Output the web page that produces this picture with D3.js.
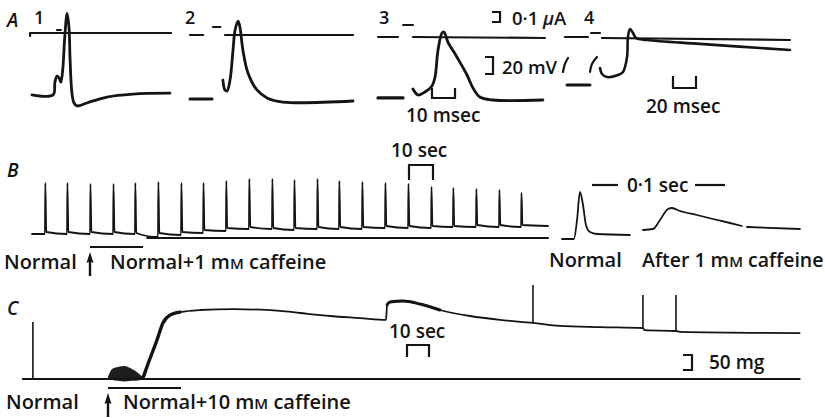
<!DOCTYPE html>
<html>
<head>
<meta charset="utf-8">
<script src="https://cdn.jsdelivr.net/npm/d3@7"></script>
<style>
  body { margin: 0; background: #fff; }
  text { font-family: "Open Sans", sans-serif; font-weight: 600; fill: #141414; }
</style>
</head>
<body>
<svg id="fig" width="825" height="418"></svg>
<script>
// ---------- Panel A: sweeps, [time ms, membrane potential mV] ----------
const a1Volt = [[0.4,-84],[9.6,-84],[10.4,-69],[11.3,-62],[12.2,-64],[13,-69],[13.9,-51],[14.6,-19],[15.7,12],[16.5,-4],[17,-43],[17.8,-82],[18.7,-93.5],[20,-97],[24.3,-93.5],[33,-86.5],[44.3,-83],[60.4,-82]];
const a2Rest = [[0,-88.8],[9.6,-88.8]];
const a2Volt = [[14.3,-66.5],[15.2,-78.2],[16.1,-79.4],[17.4,-66.5],[18.7,-31.2],[19.6,-7.6],[20.9,2.9],[21.7,-4.1],[23,-31.2],[25.2,-58.2],[29.1,-78.2],[33.5,-87.6],[40.4,-92.4],[70.9,-91.2]];
const a3Rest = [[0,-87.6],[10.9,-87.6]];
const a3Volt = [[15.2,-77.1],[17.4,-84.1],[20.4,-80.6],[23.5,-73.5],[24.8,-62.9],[26.1,-31.2],[27.8,-11.2],[28.7,-10],[30.4,-21.8],[34.3,-39.4],[38.7,-60.6],[41.3,-75.9],[44.3,-86.5],[50,-90],[71.7,-90]];
const a4Rest = [[6.1,-72.4],[26.1,-72.4]];
const a4Hook1 = [[2.6,-57],[4.3,-47.6],[7,-40.6]];
const a4Hook2 = [[26.1,-57],[27.8,-47.6],[32.2,-39.4]];
const a4Volt = [[34.8,-52.4],[36.5,-59.4],[40.9,-63],[50.4,-60.6],[54.8,-57],[58.3,-39.4],[59.1,-15.9],[60.9,-6.5],[63.5,-11.2],[66.1,-17],[75.7,-19.4],[121.7,-24],[200,-31.2]];

// current traces, [time ms, µA]; each entry is one visible stroke
const a1Curr = [[[-0.4,-0.03],[-0.4,0],[60.9,0]], [[11.3,0.03],[13,0.03]]];
const a2Curr = [[[0,0],[5.7,0]], [[10,0.08],[13.2,0.08]], [[15.2,0],[70.9,0]]];
const a3Curr = [[[0,0],[8.7,0]], [[10.9,0.12],[15.2,0.12]], [[15.2,0],[72.6,-0.01]]];
const a4Curr = [[[4.3,0],[24.3,0]], [[27,0.04],[34.8,0.04]], [[36.5,-0.01],[200,-0.03]]];

// ---------- Panel B: twitches, time s, tension (arbitrary units) ----------
const bTwitchT = [5.4,14.6,24.2,33.8,42.9,52.5,62.1,71.3,80.8,90.4,100,109.2,118.8,127.9,137.5,147.1,156.7,166.3,175.4,185,194.6,203.8];
const bPeak    = [55,55,54,54,55,56,55,55,57,59,59,58,59,57,56,55,54,51,50,49,48,45];
const bRest    = [4,4,4,4,4,1,3,5,7,9,9,8,9,9,9,10,10,10,11,11,11,11];
const bTail    = [6,6,6,6,5,5,6,8,10,11,10,10,11,11,11,12,12,12,12,13,13,13];
const bEnd = [215, 12];
const bRefLine = [[48,0],[215,0]];

// inset single twitches, time ms, tension above own baseline
const inNormal = [[0,0],[9,0],[11.3,19],[13.5,47],[15.8,34],[18,14],[21,7],[26.3,5],[51,4]];
const inCaff1  = [[0,0],[7.5,1],[12.8,10],[18.8,21],[21.8,22],[27.8,19],[40.6,15],[52.6,11],[65.4,7],[74.4,4]];
const inCaff2  = [[78.2,3],[118,1]];

// ---------- Panel C: contracture, time s, tension mg ----------
const cTrace = [[0,0],[38.6,0],[54.5,3],[56.8,50],[60.9,130],[63.6,187],[66.8,213],[71.4,223],[80.5,230],[95.5,233],[116.8,227],[125.9,220],[139.5,210],[153.2,203],[165,197],[165.5,247],[166.8,257],[172.7,260],[180.5,250],[189.5,230],[203.2,210],[216.8,197],[231.8,187],[244,177],[262.3,173],[281.8,170],[282.5,163],[296.8,160],[298.6,157],[353,153]];
const cSpikeT    = [4.5, 231.8, 281.8, 296.8];
const cSpikeBase = [0, 187, 170, 162];
const cSpikePeak = [190, 313, 280, 280];
// fibrillation burst envelope: [time s, low mg, high mg]
const cBurst = [[38.6,-2,5],[40.5,-3,33],[43.2,-6,40],[46.4,-8,43],[49.5,-6,33],[52.3,-5,20],[54.5,-2,6]];
const cRefLine = [[0,0],[353,0]];

// ---------------------------------------------------------------
const svg = d3.select('#fig');
const ink = '#141414';

function trace(pts, xs, ys, w, curve) {
  svg.append('path').datum(pts)
    .attr('d', d3.line().x(d => xs(d[0])).y(d => ys(d[1])).curve(curve || d3.curveCatmullRom.alpha(0.5)))
    .attr('fill', 'none').attr('stroke', ink).attr('stroke-width', w)
    .attr('stroke-linejoin', 'round').attr('stroke-linecap', 'round');
}

function bracket(pts, w) {
  svg.append('path').attr('d', d3.line()(pts))
    .attr('fill', 'none').attr('stroke', ink).attr('stroke-width', w || 2.2);
}

function label(x, y, parts, size, italic) {
  const t = svg.append('text').attr('x', x).attr('y', y).style('font-size', size + 'px');
  if (italic) t.style('font-style', 'italic');
  parts.forEach(p => {
    const s = t.append('tspan').text(p[0]);
    if (p[1]) s.style('font-size', p[1] + 'px');
    if (p[2]) s.style('font-style', 'italic');
  });
}

// ----- A -----
const vScale = d3.scaleLinear().domain([-90, -70]).range([100, 83]);
const aX0 = [31, 190, 378, 560], aRate = [2.3, 2.3, 2.3, 1.15], aIBase = [33, 35, 37, 37];
const tA = aX0.map((x0, i) => d3.scaleLinear().domain([0, 10]).range([x0, x0 + 10 * aRate[i]]));
const iA = aIBase.map(b => d3.scaleLinear().domain([0, 0.1]).range([b, b - 10]));
[a1Curr, a2Curr, a3Curr, a4Curr].forEach((segs, i) =>
  segs.forEach(s => trace(s, tA[i], iA[i], 2.2, d3.curveLinear)));

trace(a1Volt, tA[0], vScale, 2.8);
trace(a2Rest, tA[1], vScale, 3, d3.curveLinear);
trace(a2Volt, tA[1], vScale, 2.8);
trace(a3Rest, tA[2], vScale, 3.2, d3.curveLinear);
trace(a3Volt, tA[2], vScale, 2.8);
trace(a4Rest, tA[3], vScale, 3, d3.curveLinear);
trace(a4Hook1, tA[3], vScale, 2.2);
trace(a4Hook2, tA[3], vScale, 2.2);
trace(a4Volt, tA[3], vScale, 2.6);

// scale bars A
const uA = Math.abs(iA[0](0.1) - iA[0](0));
bracket([[492, 12], [500, 12], [500, 12 + uA], [492, 12 + uA]]);
const mV20 = Math.abs(vScale(-70) - vScale(-90));
bracket([[485, 57], [493, 57], [493, 57 + mV20], [485, 57 + mV20]]);
const ms10 = tA[2](10) - tA[2](0);
bracket([[432, 88], [432, 98], [432 + ms10, 98], [432 + ms10, 88]]);
const ms20 = tA[3](20) - tA[3](0);
bracket([[673, 76], [673, 88], [673 + ms20, 88], [673 + ms20, 76]]);

label(7, 27, [['A']], 19, true);
label(34, 24, [['1']], 18);
label(185, 24, [['2']], 18);
label(379, 24, [['3']], 18);
label(584, 24, [['4']], 18);
label(512, 25, [['0·1 '], ['μ', null, true], ['A']], 18.5);
label(502, 74, [['20 mV']], 18.5);
label(406, 122, [['10 msec']], 19);
label(646, 113, [['20 msec']], 19);

// ----- B -----
const tB = d3.scaleLinear().domain([0, 10]).range([32, 56]);
const fB = d3.scaleLinear().domain([0, 60]).range([238, 178]);
const bPts = [[0, bRest[0]]];
bTwitchT.forEach((t, i) => {
  bPts.push([t - 0.2, bRest[i]], [t, bRest[i]], [t + 0.15, bPeak[i]], [t + 0.55, bTail[i]]);
});
bPts.push(bEnd);
trace(bPts, tB, fB, 1.8, d3.curveMonotoneX);
trace(bRefLine, tB, fB, 2, d3.curveLinear);
const s10B = tB(10) - tB(0);
bracket([[409, 180], [409, 165], [409 + s10B, 165], [409 + s10B, 180]]);
label(7, 177, [['B']], 19, true);
label(391, 157, [['10 sec']], 19);

// inset
const tIn = d3.scaleLinear().domain([0, 100]).range([0, 133]);
const xN = d3.scaleLinear().domain([0, 100]).range([562, 562 + 133]);
const xC = d3.scaleLinear().domain([0, 100]).range([643, 643 + 133]);
const yN = d3.scaleLinear().domain([0, 50]).range([239, 189]);
const yC = d3.scaleLinear().domain([0, 50]).range([230, 180]);
trace(inNormal, xN, yN, 1.8, d3.curveMonotoneX);
trace(inCaff1, xC, yC, 1.8, d3.curveMonotoneX);
trace(inCaff2, xC, yC, 1.8, d3.curveMonotoneX);
const s01 = tIn(100);
svg.append('line').attr('x1', 592).attr('x2', 618).attr('y1', 185).attr('y2', 185).attr('stroke', ink).attr('stroke-width', 2.2);
svg.append('line').attr('x1', 695).attr('x2', 592 + s01).attr('y1', 185).attr('y2', 185).attr('stroke', ink).attr('stroke-width', 2.2);
label(627, 192, [['0·1 sec']], 19);

// labels B
label(4, 269, [['Normal']], 20);
label(110, 269, [['Normal+1 m'], ['M', 15], [' caffeine']], 20);
label(549, 267, [['Normal']], 20);
label(642, 267, [['After 1 m'], ['M', 15], [' caffeine']], 19.5);
svg.append('line').attr('x1', 90).attr('x2', 143).attr('y1', 247).attr('y2', 247).attr('stroke', ink).attr('stroke-width', 2.2);

function arrow(x, yTip, yEnd) {
  svg.append('path').attr('d', `M${x},${yTip} L${x + 3.5},${yTip + 11} L${x + 1.2},${yTip + 10} L${x + 1.2},${yEnd} L${x - 1.2},${yEnd} L${x - 1.2},${yTip + 10} L${x - 3.5},${yTip + 11} Z`)
    .attr('fill', ink);
}
arrow(90, 252, 276);

// ----- C -----
const tC = d3.scaleLinear().domain([0, 10]).range([23, 45]);
const fC = d3.scaleLinear().domain([0, 50]).range([379, 364]);
trace(cRefLine, tC, fC, 2, d3.curveLinear);
svg.append('path').datum(cBurst)
  .attr('d', d3.area().x(d => tC(d[0])).y0(d => fC(d[1])).y1(d => fC(d[2])).curve(d3.curveCatmullRom))
  .attr('fill', '#1e1e1e');
trace(cTrace, tC, fC, 1.8, d3.curveMonotoneX);
trace(cTrace.filter(d => d[0] >= 54 && d[0] <= 72), tC, fC, 3.4, d3.curveMonotoneX);
trace(cTrace.filter(d => d[0] >= 165.5 && d[0] <= 200), tC, fC, 3, d3.curveMonotoneX);
cSpikeT.forEach((t, i) => {
  svg.append('line').attr('x1', tC(t)).attr('x2', tC(t))
    .attr('y1', fC(cSpikeBase[i])).attr('y2', fC(cSpikePeak[i]))
    .attr('stroke', ink).attr('stroke-width', 1.6);
});
const s10C = tC(10) - tC(0);
bracket([[407, 357], [407, 345], [407 + s10C, 345], [407 + s10C, 357]]);
const mg50 = Math.abs(fC(50) - fC(0));
bracket([[683, 355], [692, 355], [692, 355 + mg50], [683, 355 + mg50]]);
svg.append('line').attr('x1', 108).attr('x2', 181).attr('y1', 388).attr('y2', 388).attr('stroke', ink).attr('stroke-width', 2.2);
arrow(108, 393, 417);

label(7, 315, [['C']], 19, true);
label(389, 338, [['10 sec']], 19);
label(709, 369, [['50 mg']], 19);
label(6, 409, [['Normal']], 20);
label(123, 409, [['Normal+10 m'], ['M', 15], [' caffeine']], 20);
</script>
</body>
</html>
